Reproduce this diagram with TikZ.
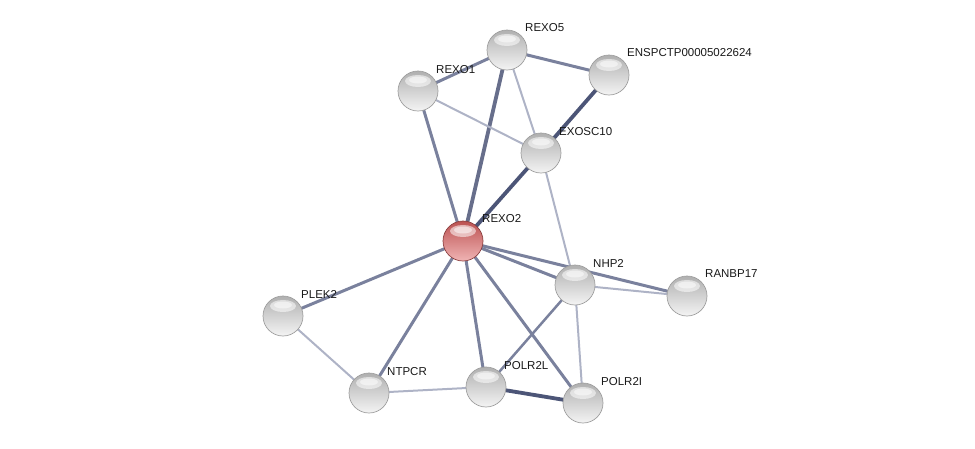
\documentclass[tikz,border=0pt]{standalone}
\usepackage{fontspec}
\setmainfont{Liberation Sans}
\usetikzlibrary{backgrounds}
\definecolor{edgedark}{HTML}{4C5577}
\definecolor{edgemid}{HTML}{7A819D}
\definecolor{edgelight}{HTML}{AEB3C6}
\definecolor{gtop}{HTML}{B0B0B0}
\definecolor{gmid}{HTML}{D0D0D0}
\definecolor{gbot}{HTML}{F4F4F4}
\definecolor{rtop}{HTML}{BC5252}
\definecolor{rmid}{HTML}{DA6E6E}
\definecolor{rbot}{HTML}{F0B4B4}
\tikzset{
  prot/.style={circle,minimum size=40pt,inner sep=0pt,top color=gtop,middle color=gmid,bottom color=gbot,draw=gray!75,line width=0.7pt,
    path picture={\fill[white,opacity=0.55] ([yshift=10pt]path picture bounding box.center) ellipse (13pt and 6pt);
                  \fill[white,opacity=0.5] ([yshift=11pt]path picture bounding box.center) ellipse (9pt and 3.5pt);}},
  protred/.style={prot,top color=rtop,middle color=rmid,bottom color=rbot,draw=red!40!black!75},
  lbl/.style={anchor=west,font=\fontsize{11.5}{12}\selectfont,inner sep=0pt,text=black!90},
  ethick/.style={draw=edgedark,line width=3.8pt},
  emid/.style={draw=edgemid,line width=3pt},
  ethin/.style={draw=edgelight,line width=2pt}
}
\begin{document}
\begin{tikzpicture}[x=1pt,y=-1pt]
\useasboundingbox (0,0) rectangle (975,448);
\node[prot] (REXO5) at (507,50) {};
\node[prot] (ENSP) at (609,75) {};
\node[prot] (REXO1) at (418,91) {};
\node[prot] (EXOSC10) at (541,153) {};
\node[protred] (REXO2) at (463,241) {};
\node[prot] (NHP2) at (575,285) {};
\node[prot] (RANBP17) at (687,296) {};
\node[prot] (PLEK2) at (283,316) {};
\node[prot] (NTPCR) at (369,393) {};
\node[prot] (POLR2L) at (486,387) {};
\node[prot] (POLR2I) at (583,403) {};
\node[lbl] (lREXO5) at (525,28) {REXO5};
\node[lbl] (lENSP) at (627,53) {ENSPCTP00005022624};
\node[lbl] (lREXO1) at (436,70) {REXO1};
\node[lbl] (lEXOSC10) at (559,132) {EXOSC10};
\node[lbl] (lREXO2) at (482,219) {REXO2};
\node[lbl] (lNHP2) at (593,263) {NHP2};
\node[lbl] (lRANBP17) at (705,274) {RANBP17};
\node[lbl] (lPLEK2) at (301,294) {PLEK2};
\node[lbl] (lNTPCR) at (387,372) {NTPCR};
\node[lbl] (lPOLR2L) at (504,366) {POLR2L};
\node[lbl] (lPOLR2I) at (601,382) {POLR2I};
\begin{scope}[on background layer]
\draw[emid] (REXO5.center) -- (ENSP.center);
\draw[emid] (REXO5.center) -- (REXO1.center);
\draw[ethin] (REXO5.center) -- (EXOSC10.center);
\draw[ethick,draw=edgedark!85!white] (REXO5.center) -- (REXO2.center);
\draw[ethin] (REXO1.center) -- (EXOSC10.center);
\draw[emid] (REXO1.center) -- (REXO2.center);
\draw[ethick] (ENSP.center) -- (EXOSC10.center);
\draw[ethick] (EXOSC10.center) -- (REXO2.center);
\draw[ethin] (EXOSC10.center) -- (NHP2.center);
\draw[emid] (REXO2.center) -- (NHP2.center);
\draw[emid] (REXO2.center) -- (RANBP17.center);
\draw[emid] (REXO2.center) -- (PLEK2.center);
\draw[emid] (REXO2.center) -- (NTPCR.center);
\draw[emid] (REXO2.center) -- (POLR2L.center);
\draw[emid] (REXO2.center) -- (POLR2I.center);
\draw[ethin] (NHP2.center) -- (RANBP17.center);
\draw[emid,line width=2.5pt] (NHP2.center) -- (POLR2L.center);
\draw[ethin] (NHP2.center) -- (POLR2I.center);
\draw[ethin] (PLEK2.center) -- (NTPCR.center);
\draw[ethin] (NTPCR.center) -- (POLR2L.center);
\draw[ethick] (POLR2L.center) -- (POLR2I.center);
\end{scope}
\end{tikzpicture}
\end{document}
